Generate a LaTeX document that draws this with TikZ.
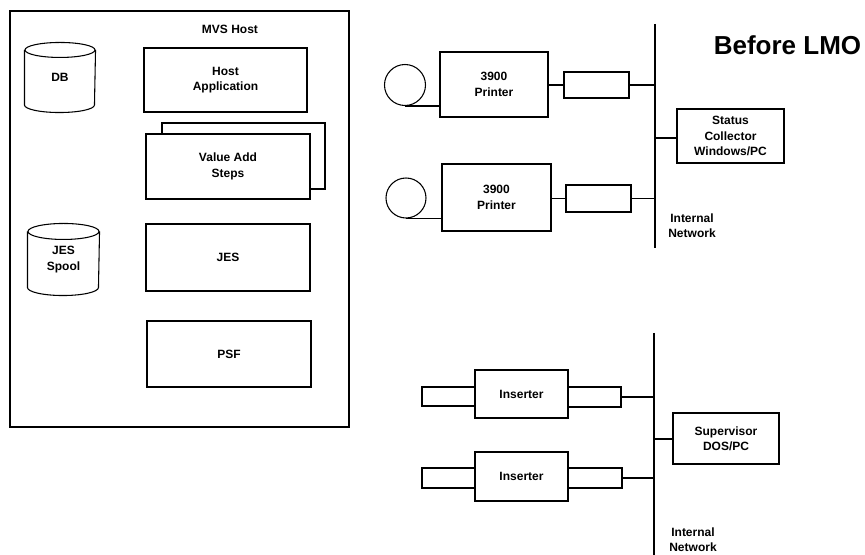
\documentclass[tikz,border=0pt]{standalone}
\usepackage{fontspec}
\setmainfont{Liberation Sans}
\begin{document}
\begin{tikzpicture}[x=0.75pt,y=-0.75pt,
  line width=0.8pt,
  lbl/.style={font=\bfseries\fontsize{9}{11.5}\selectfont, align=center, inner sep=0pt},
  bx/.style n args={2}{draw, fill=white, minimum width=#1*0.75pt, minimum height=#2*0.75pt, inner sep=0pt, lbl},
  ph/.style n args={2}{minimum width=#1*0.75pt, minimum height=#2*0.75pt, inner sep=0pt, lbl},
  disk/.style={draw, circle, minimum size=#1*0.75pt, inner sep=0pt}]
\clip (0,0) rectangle (865,555);
\useasboundingbox (0,0) rectangle (865,555);

% ---------------- MVS host ----------------
\node[bx={339}{416}] (host) at (179.5,219) {};
\node[lbl] (hostlbl) at (230,29) {MVS Host};
\node[bx={163}{64}] (happ) at (225.5,80) {Host\\Application};
\node[bx={163}{66}] (vasback) at (243.5,156) {};
\node[bx={164}{65}] (vas) at (228,166.5) {Value Add\\Steps};
\node[bx={164}{67}] (jes) at (228,257.5) {JES};
\node[bx={164}{66}] (psf) at (229,354) {PSF};

% cylinders
\node[ph={70}{69}] (db) at (60,77.5) {DB};
\draw (db.north) ++(0,7.5) ellipse [x radius=35, y radius=7.5];
\draw (db.north west) ++(0,7.5) -- ([yshift=7.5*0.75pt]db.south west)
      arc[start angle=180, end angle=0, x radius=35, y radius=7.5]
      -- ([yshift=-7.5*0.75pt]db.north east);

\node[ph={71}{71}] (spool) at (63.5,259.5) {JES\\Spool};
\draw (spool.north) ++(0,8) ellipse [x radius=35.5, y radius=8];
\draw (spool.north west) ++(0,8) -- ([yshift=8*0.75pt]spool.south west)
      arc[start angle=180, end angle=0, x radius=35.5, y radius=8]
      -- ([yshift=-8*0.75pt]spool.north east);

% ---------------- printers ----------------
\node[font=\bfseries\fontsize{19.5}{22}\selectfont, inner sep=0pt] (title) at (787.5,45) {Before LMO};

\coordinate (bus1top) at (655,24);
\coordinate (bus1bot) at (655,248);
\draw (bus1top) -- (bus1bot);

\node[disk=41] (c1) at (405,85) {};
\node[bx={108}{65}] (p1) at (494,84.5) {3900\\Printer};
\node[bx={65}{26}] (r1) at (596.5,85) {};
\draw (c1.south) -- (c1.south -| p1.west);
\draw (p1.east |- r1.west) -- (r1.west);
\coordinate (b1a) at (655,85);
\draw (r1.east) -- (b1a);

\node[disk=40] (c2) at (406,198) {};
\node[bx={109}{67}] (p2) at (496.5,197.5) {3900\\Printer};
\node[bx={65}{27}] (r2) at (598.5,198.5) {};
\draw (c2.south) -- (c2.south -| p2.west);
\draw (p2.east |- r2.west) -- (r2.west);
\coordinate (b1b) at (655,198.5);
\draw (r2.east) -- (b1b);

\node[bx={107}{54}] (status) at (730.5,136) {Status\\Collector\\Windows/PC};
\coordinate (b1c) at (655,138);
\draw (b1c) -- (b1c -| status.west);

\node[lbl] (net1) at (692,225.5) {Internal\\Network};

% ---------------- inserters ----------------
\coordinate (bus2top) at (654,333);
\coordinate (bus2bot) at (654,560);
\draw (bus2top) -- (bus2bot);

\node[bx={53}{19}] (l1) at (448.5,396.5) {};
\node[bx={53}{20}] (rr1) at (594.5,397) {};
\node[bx={93}{48}] (i1) at (521.5,394) {Inserter};
\coordinate (b2a) at (654,397);
\draw (rr1.east) -- (b2a);

\node[bx={53}{20}] (l2) at (448.5,478) {};
\node[bx={54}{20}] (rr2) at (595,478) {};
\node[bx={93}{49}] (i2) at (521.5,476.5) {Inserter};
\coordinate (b2b) at (654,478);
\draw (rr2.east) -- (b2b);

\node[bx={106}{51}] (sup) at (726,438.5) {Supervisor\\DOS/PC};
\coordinate (b2c) at (654,439);
\draw (b2c) -- (b2c -| sup.west);

\node[lbl] (net2) at (693,540) {Internal\\Network};
\end{tikzpicture}
\end{document}
